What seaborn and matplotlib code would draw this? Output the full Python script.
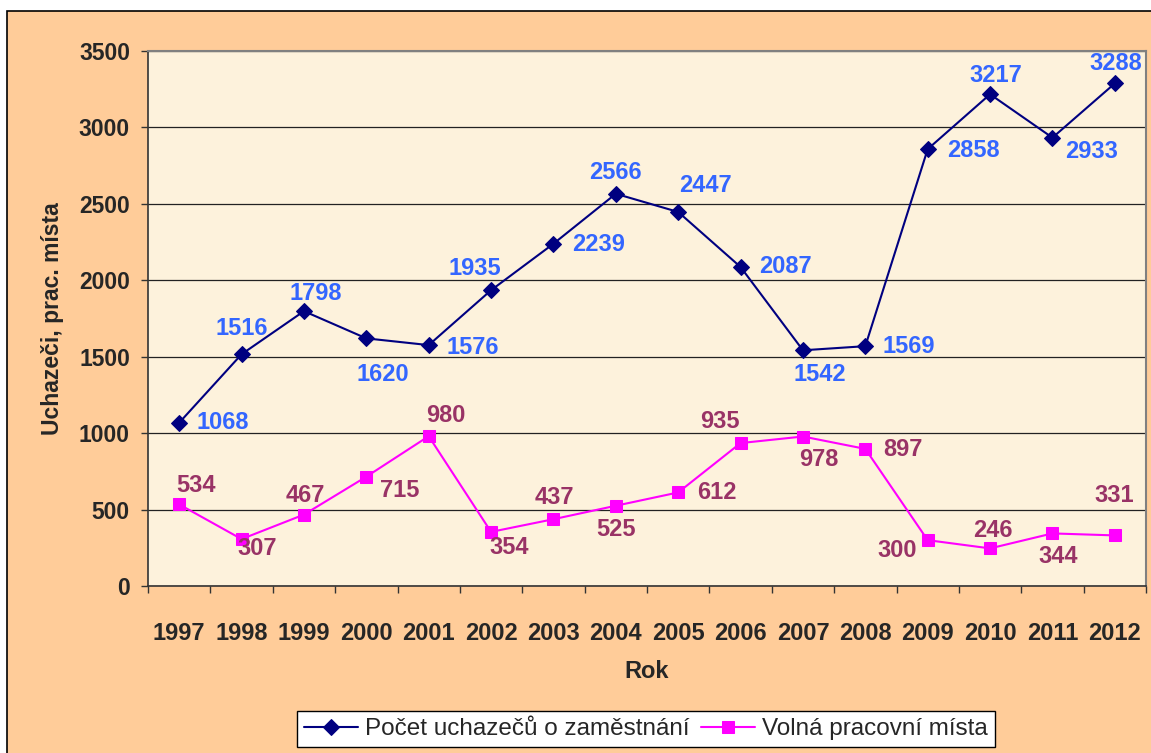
import matplotlib
matplotlib.use("Agg")
import matplotlib.pyplot as plt
import matplotlib.patches as mpatches
from matplotlib.ticker import MultipleLocator
import numpy as np
import pandas as pd
import seaborn as sns

years = list(range(1997, 2013))
uchazeci = [1068, 1516, 1798, 1620, 1576, 1935, 2239, 2566, 2447, 2087, 1542, 1569, 2858, 3217, 2933, 3288]
volna = [534, 307, 467, 715, 980, 354, 437, 525, 612, 935, 978, 897, 300, 246, 344, 331]

# label offsets in pixels (dx, dy) relative to the marker
off_u = [(44, 0), (0, 26), (12, 18), (17, -36), (44, -2), (-16, 22), (45, -1), (0, 21),
         (27, 26), (45, 0), (17, -24), (43, 0), (46, -1), (6, 19), (39, -14), (1, 20)]
off_v = [(17, 19), (16, -9), (1, 19), (33, -14), (17, 21), (18, -16), (1, 22), (0, -24),
         (39, 0), (-21, 22), (16, -23), (38, -1), (-31, -10), (3, 18), (6, -23), (-1, 40)]

df = pd.DataFrame({"rok": years, "u": uchazeci, "v": volna})

sns.set_theme(style="white")
plt.rcParams["font.family"] = ["Liberation Sans", "DejaVu Sans"]

fig = plt.figure(figsize=(11.51, 7.53), dpi=100)
fig.patch.set_facecolor("white")
frame = mpatches.Rectangle((7 / 1151, -0.01), 1.0, 1 - 11 / 753 + 0.01,
                           transform=fig.transFigure, facecolor="#FFCC99",
                           edgecolor="black", linewidth=1.2, zorder=-10)
fig.patches.append(frame)

ax = fig.add_axes([148 / 1151, 1 - 586 / 753, (1146 - 148) / 1151, (586 - 51) / 753])
ax.set_zorder(1)
ax.set_facecolor("#FDF2DC")

navy = "#000080"
mag = "#FF00FF"
sns.lineplot(data=df, x="rok", y="u", ax=ax, color=navy, linewidth=1.5,
             marker="D", markersize=8, markeredgecolor=navy, markerfacecolor=navy,
             label="Počet uchazečů o zaměstnání", legend=False)
sns.lineplot(data=df, x="rok", y="v", ax=ax, color=mag, linewidth=1.5,
             marker="s", markersize=8, markeredgecolor=mag, markerfacecolor=mag,
             label="Volná pracovní místa", legend=False)

for x, y, (dx, dy) in zip(years, uchazeci, off_u):
    ax.annotate(str(y), (x, y), xytext=(dx, dy), textcoords="offset pixels",
                ha="center", va="center", fontsize=17, fontweight="bold", color="#3366FF")
for x, y, (dx, dy) in zip(years, volna, off_v):
    ax.annotate(str(y), (x, y), xytext=(dx, dy), textcoords="offset pixels",
                ha="center", va="center", fontsize=17, fontweight="bold", color="#993366")

ax.set_xlim(1996.5, 2012.5)
ax.set_ylim(0, 3500)
ax.set_xticks(years)
ax.set_xticklabels([str(y) for y in years])
ax.set_xticks(np.arange(1996.5, 2013, 1), minor=True)
ax.yaxis.set_major_locator(MultipleLocator(500))
ax.tick_params(axis="x", which="major", length=0, pad=26, labelsize=17)
ax.tick_params(axis="x", which="minor", length=5, width=1, color="#333333", direction="out", bottom=True)
ax.tick_params(axis="y", which="major", length=5, width=1, color="#333333", direction="out",
               left=True, pad=8, labelsize=16.5)
for lab in ax.get_xticklabels() + ax.get_yticklabels():
    lab.set_fontweight("bold")

ax.grid(axis="y", color="#222222", linewidth=0.9)
ax.set_axisbelow(True)
for s in ["top", "right"]:
    ax.spines[s].set_color("#808080")
    ax.spines[s].set_linewidth(1.5)
ax.spines["left"].set_color("#333333")
ax.spines["bottom"].set_color("#333333")
ax.spines["left"].set_linewidth(1.2)
ax.spines["bottom"].set_linewidth(1.2)

ax.set_xlabel("Rok", fontsize=17, fontweight="bold", labelpad=11)
ax.set_ylabel("Uchazeči, prac. místa", fontsize=16.5, fontweight="bold", labelpad=11)

handles, labels = ax.get_legend_handles_labels()
leg = fig.legend(handles, labels, loc="center", bbox_to_anchor=(646 / 1151, 1 - 729 / 753),
                 ncol=2, fontsize=17.5, frameon=True, fancybox=False, framealpha=1,
                 edgecolor="black", handlelength=2.2, columnspacing=0.5, handletextpad=0.3,
                 borderpad=0.3)
leg.get_frame().set_linewidth(1.0)

fig.savefig("out.png", dpi=100, facecolor=fig.get_facecolor())
